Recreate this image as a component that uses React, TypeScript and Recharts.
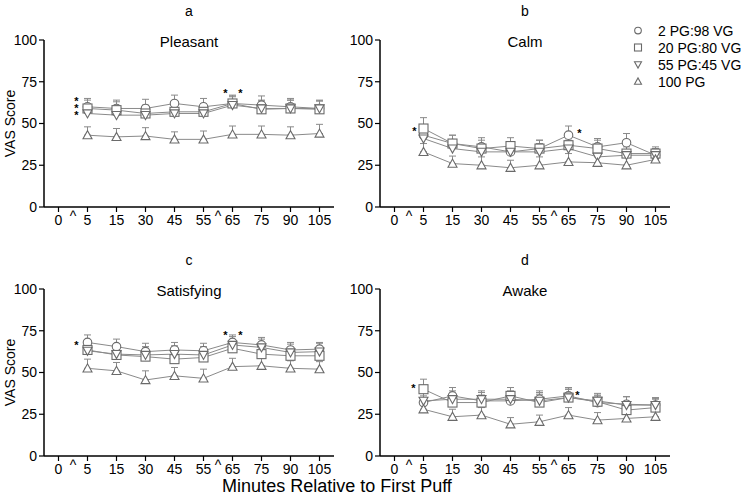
import React from 'react'
import { LineChart, Line, XAxis, YAxis, ErrorBar, ReferenceDot } from 'recharts'

// time points (min relative to first puff); nothing was measured at 0
const minutes = ['0', '5', '15', '30', '45', '55', '65', '75', '90', '105']
const yTicks = [0, 25, 50, 75, 100]
const seriesNames = ['2 PG:98 VG', '20 PG:80 VG', '55 PG:45 VG', '100 PG']
const seriesShapes = ['circle', 'square', 'down', 'up']

// a - Pleasant (5..105 min)
const pleasant2 = [60, 59, 59, 62, 60, 62, 61, 60, 59]
const pleasant20 = [59, 58, 56, 57, 57, 62, 58.5, 59, 58.5]
const pleasant55 = [56, 55, 55, 56, 56, 61, 59, 59, 59]
const pleasant100 = [43, 42, 42.5, 40.5, 40.5, 43.5, 43.5, 43, 44]
const pleasant2Err = [5, 5, 5.5, 5, 5, 5, 5.5, 5, 4.5]
const pleasant20Err = [5, 5, 5, 5, 5, 4.5, 5, 5, 5]
const pleasant55Err = [5.5, 5, 5, 5, 5, 5, 5, 5, 5]
const pleasant100Err = [5, 5, 5, 4.5, 5, 5, 5, 5, 5.5]

// b - Calm
const calm2 = [43, 38, 36, 33, 35, 43, 36, 38.5, 31]
const calm20 = [47, 38, 35, 36.5, 35, 37, 35, 32, 32]
const calm55 = [41, 35, 33, 33, 33, 35, 30, 31, 31]
const calm100 = [33, 26, 25, 23.5, 25, 27, 26.5, 25, 28.5]
const calm2Err = [4.5, 5, 5.5, 5, 5, 5.5, 5, 5.5, 4]
const calm20Err = [6.5, 5, 5, 5, 5, 5, 5, 5, 4]
const calm55Err = [5, 5, 5, 5, 5, 5, 5, 5, 4]
const calm100Err = [5, 4.5, 5, 4.5, 5, 5, 5, 5, 4]

// c - Satisfying
const satisfying2 = [68, 65.5, 62.5, 63.5, 63, 68, 66.5, 63.5, 64]
const satisfying20 = [63.5, 60.5, 59.5, 58, 59, 64.5, 61, 60, 60]
const satisfying55 = [63, 61, 60.5, 61, 60.5, 66.5, 65, 62, 62.5]
const satisfying100 = [52.5, 51, 45.5, 48, 46.5, 53.5, 54, 52.5, 52]
const satisfying2Err = [4.5, 4.5, 5, 4.5, 4.5, 4.5, 4.5, 4.5, 4]
const satisfying20Err = [5, 5, 5, 5, 5, 5, 5, 5, 5]
const satisfying55Err = [5, 5, 5, 5, 5, 5, 5, 5, 5]
const satisfying100Err = [5.5, 5, 5.5, 5, 5.5, 5, 5, 4.5, 4.5]

// d - Awake
const awake2 = [32, 36, 33, 33, 34, 36, 32, 31, 30.5]
const awake20 = [40, 32, 32, 36, 32, 35, 32.5, 27.5, 29]
const awake55 = [33, 34, 34, 34, 33, 35, 33, 30.5, 30.5]
const awake100 = [28, 23.5, 24.5, 19, 20.5, 24.5, 21.5, 22.5, 23.5]
const awake2Err = [4, 5, 5, 5, 5, 5, 4, 4.5, 4]
const awake20Err = [6, 5, 4.5, 5, 5, 5, 4, 5, 5]
const awake55Err = [5, 5, 5, 5, 5, 5, 4.5, 5, 4.5]
const awake100Err = [4, 4.5, 4.5, 4, 4, 4.5, 4.5, 4.5, 4.5]

// significance asterisks (time point, height in VAS units, side offset)
const pleasantStars = [
  { t: '5', v: 64.7, dx: -11 }, { t: '5', v: 60.5, dx: -11 }, { t: '5', v: 56.3, dx: -11 },
  { t: '65', v: 69.5, dx: -7 }, { t: '65', v: 69.5, dx: 8 },
]
const calmStars = [{ t: '5', v: 47, dx: -9 }, { t: '65', v: 46, dx: 11 }]
const satisfyingStars = [{ t: '5', v: 67.7, dx: -11 }, { t: '65', v: 74, dx: -7 }, { t: '65', v: 74, dx: 8 }]
const awakeStars = [{ t: '5', v: 42, dx: -10 }, { t: '65', v: 38, dx: 9 }]

const FONT = '"Liberation Sans", Arial, sans-serif'
const LINE = '#8a8a8a'
const MARK = '#6a6a6a'

function buildRows(vals: number[][], errs: number[][]) {
  return minutes.map((t, i) => {
    const row: any = { t }
    vals.forEach((v, k) => {
      row['s' + k] = i === 0 ? null : v[i - 1]
      row['e' + k] = i === 0 ? null : [0, errs[k][i - 1]]
    })
    return row
  })
}

function marker(shape: string, cx: number, cy: number, s: number, key?: string) {
  const common = { fill: '#fff', stroke: MARK, strokeWidth: 1.1 }
  if (shape === 'circle') return <circle key={key} cx={cx} cy={cy} r={s * 0.95} {...common} />
  if (shape === 'square') return <rect key={key} x={cx - s} y={cy - s} width={s * 2} height={s * 2} {...common} />
  if (shape === 'down')
    return <polygon key={key} points={`${cx - s},${cy - s * 0.8} ${cx + s},${cy - s * 0.8} ${cx},${cy + s}`} {...common} />
  return <polygon key={key} points={`${cx - s},${cy + s * 0.8} ${cx + s},${cy + s * 0.8} ${cx},${cy - s}`} {...common} />
}

function MinuteTick(props: any) {
  const { x, y, payload } = props
  const v = payload.value
  return (
    <g>
      <text x={x} y={y + 11} textAnchor="middle" fontSize={14} fill="#000" fontFamily={FONT}>{v}</text>
      {(v === '5' || v === '65') && (
        <text x={x - 14.5} y={y + 7} textAnchor="middle" fontSize={14} fill="#000" fontFamily={FONT}>^</text>
      )}
    </g>
  )
}

function Panel({ left, top, width, letter, title, data, stars, showLabel }: any) {
  const plotLeft = 44
  const plotWidth = 290
  return (
    <div style={{ position: 'absolute', left, top, width, height: 249 }}>
      <LineChart
        width={width}
        height={249}
        data={data}
        margin={{ top: 40, right: width - plotLeft - plotWidth, bottom: 12, left: 4 }}
        style={{ fontFamily: FONT }}
      >
        <XAxis
          dataKey="t"
          interval={0}
          height={30}
          tickSize={5}
          padding={{ left: 14.5, right: 14.5 }}
          tick={<MinuteTick />}
          axisLine={{ stroke: '#000', strokeWidth: 1.5 }}
          tickLine={{ stroke: '#000', strokeWidth: 1.2 }}
        />
        <YAxis
          domain={[0, 100]}
          ticks={yTicks}
          width={40}
          tickSize={5}
          tick={{ fill: '#000', fontSize: 14 }}
          axisLine={{ stroke: '#000', strokeWidth: 1.5 }}
          tickLine={{ stroke: '#000', strokeWidth: 1.2 }}
          label={showLabel ? { value: 'VAS Score', angle: -90, position: 'insideLeft', offset: 6, fill: '#000', fontSize: 14, style: { textAnchor: 'middle' } } : undefined}
        />
        {seriesShapes.map((shape, k) => (
          <Line
            key={shape}
            dataKey={'s' + k}
            name={seriesNames[k]}
            stroke={LINE}
            strokeWidth={1}
            isAnimationActive={false}
            dot={(p: any) =>
              p.cx == null || p.cy == null || p.value == null
                ? <g key={shape + p.index} />
                : marker(shape, p.cx, p.cy, 4.5, shape + p.index)
            }
          >
            <ErrorBar dataKey={'e' + k} direction="y" width={3.5} stroke={LINE} strokeWidth={1} isAnimationActive={false} />
          </Line>
        ))}
        {stars.map((s: any, i: number) => (
          <ReferenceDot
            key={i}
            x={s.t}
            y={s.v}
            r={0}
            ifOverflow="visible"
            shape={(p: any) => (
              <text x={p.cx + s.dx} y={p.cy + 6.5} textAnchor="middle" fontSize={11} fontWeight="bold" fill="#000" fontFamily={FONT}>*</text>
            )}
          />
        ))}
      </LineChart>
      <div style={{ position: 'absolute', left: plotLeft, top: 4, width: plotWidth, textAlign: 'center', fontSize: 14, lineHeight: '14px', fontFamily: FONT, color: '#000' }}>{letter}</div>
      <div style={{ position: 'absolute', left: plotLeft, top: 34, width: plotWidth, textAlign: 'center', fontSize: 15, lineHeight: '16px', fontFamily: FONT, color: '#000' }}>{title}</div>
    </div>
  )
}

function SeriesKey() {
  return (
    <div style={{ position: 'absolute', left: 628, top: 22, fontFamily: FONT, fontSize: 14, color: '#000' }}>
      {seriesNames.map((n, k) => (
        <div key={n} style={{ display: 'flex', alignItems: 'center', height: 17 }}>
          <svg width={20} height={17}>{marker(seriesShapes[k], 10, 8.5, 3.5)}</svg>
          <span style={{ marginLeft: 10, whiteSpace: 'nowrap' }}>{n}</span>
        </div>
      ))}
    </div>
  )
}

export default function App() {
  const a = buildRows([pleasant2, pleasant20, pleasant55, pleasant100], [pleasant2Err, pleasant20Err, pleasant55Err, pleasant100Err])
  const b = buildRows([calm2, calm20, calm55, calm100], [calm2Err, calm20Err, calm55Err, calm100Err])
  const c = buildRows([satisfying2, satisfying20, satisfying55, satisfying100], [satisfying2Err, satisfying20Err, satisfying55Err, satisfying100Err])
  const d = buildRows([awake2, awake20, awake55, awake100], [awake2Err, awake20Err, awake55Err, awake100Err])
  return (
    <div style={{ position: 'absolute', left: 0, top: 0, width: 746, height: 498, background: '#fff', overflow: 'hidden' }}>
      <Panel left={0} top={0} width={373} letter="a" title="Pleasant" data={a} stars={pleasantStars} showLabel />
      <Panel left={336} top={0} width={410} letter="b" title="Calm" data={b} stars={calmStars} />
      <Panel left={0} top={249} width={373} letter="c" title="Satisfying" data={c} stars={satisfyingStars} showLabel />
      <Panel left={336} top={249} width={410} letter="d" title="Awake" data={d} stars={awakeStars} />
      <SeriesKey />
      <div style={{ position: 'absolute', left: 0, width: 674, top: 476, textAlign: 'center', fontSize: 18, lineHeight: '20px', fontFamily: FONT, color: '#000' }}>
        Minutes Relative to First Puff
      </div>
    </div>
  )
}
